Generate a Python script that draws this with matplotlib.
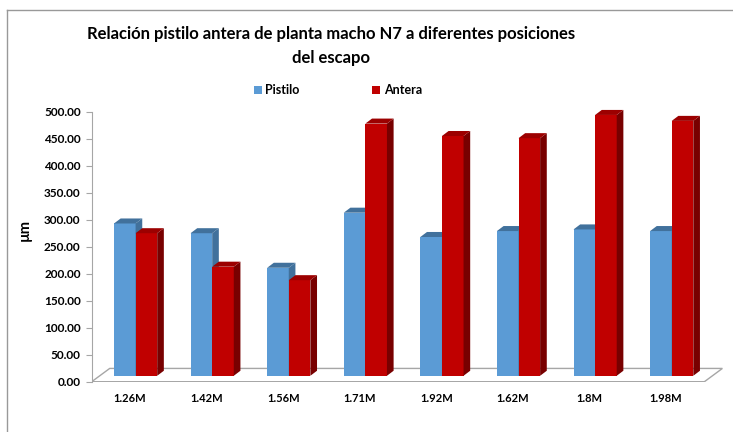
import matplotlib
matplotlib.use("Agg")
import matplotlib.pyplot as plt
from matplotlib.patches import Polygon, Patch
from matplotlib.lines import Line2D

plt.rcParams['font.family'] = ['Lato', 'DejaVu Sans']
plt.rcParams['font.weight'] = 'bold'

# data
categories = ['1.26M', '1.42M', '1.56M', '1.71M', '1.92M', '1.62M', '1.8M', '1.98M']
pistilo = [282, 264, 200, 302, 257, 268, 271, 268]
antera = [264, 202, 177, 467, 444, 440, 483, 472]
yticks = [0, 50, 100, 150, 200, 250, 300, 350, 400, 450, 500]

# colours (front, top, side)
BLUE = ('#5b9bd5', '#41719c', '#41719c')
RED = ('#c00000', '#9c0000', '#780000')

# fake 3D geometry (category units / value units)
BAR_W = 0.282
PAIR_OFF = 0.073
BASE = 11.0          # bar front sits a bit behind the floor front edge
DDX, DDY = 0.087, 9.3   # depth of a bar
FDX, FDY = 0.235, 24.6  # depth of the floor


def draw_bar3d(ax, x0, value, colors, z):
    x1 = x0 + BAR_W
    top = BASE + value
    ax.bar(x0, value, width=BAR_W, bottom=BASE, align='edge',
           color=colors[0], linewidth=0, zorder=z)
    side = [(x1, BASE), (x1 + DDX, BASE + DDY), (x1 + DDX, top + DDY), (x1, top)]
    cap = [(x0, top), (x1, top), (x1 + DDX, top + DDY), (x0 + DDX, top + DDY)]
    ax.add_patch(Polygon(side, closed=True, facecolor=colors[2], lw=0, zorder=z))
    ax.add_patch(Polygon(cap, closed=True, facecolor=colors[1], lw=0, zorder=z))


fig = plt.figure(figsize=(7.33, 4.32), dpi=100)
ax = fig.add_axes([0.1251, 0.1164, 0.862, 0.650])
n = len(categories)
ax.set_xlim(-0.5, n - 0.25)
ax.set_ylim(0, 520)

# floor
floor = [(-0.5, 0), (n - 0.5, 0), (n - 0.5 + FDX, FDY), (-0.5 + FDX, FDY)]
ax.add_patch(Polygon(floor, closed=True, facecolor='white',
                     edgecolor='#a6a6a6', lw=1, zorder=1))

for i in range(n):
    left = i + PAIR_OFF - BAR_W
    draw_bar3d(ax, left, pistilo[i], BLUE, 2 + 2 * i)
    draw_bar3d(ax, left + BAR_W, antera[i], RED, 3 + 2 * i)

for s in ['top', 'right', 'bottom']:
    ax.spines[s].set_visible(False)
ax.spines['left'].set_bounds(0, 500)
ax.spines['left'].set_color('#a6a6a6')

ax.set_yticks(yticks)
ax.set_yticklabels([f'{v:.2f}' for v in yticks], fontsize=8.5, fontweight='bold')
ax.tick_params(axis='y', length=4, color='#a6a6a6', pad=4)
ax.set_xticks(range(n))
ax.set_xticklabels(categories, fontsize=8, fontweight='bold')
ax.tick_params(axis='x', length=0, pad=8)

fig.text(25 / 733, 1 - 230 / 432, 'µm', rotation=90, ha='center', va='center',
         fontsize=10.5, fontweight='bold')

fig.text(331 / 733, 1 - 39 / 432,
         'Relación pistilo antera de planta macho N7 a diferentes posiciones',
         ha='center', va='baseline', fontsize=12, fontweight='bold')
fig.text(331 / 733, 1 - 63 / 432, 'del escapo',
         ha='center', va='baseline', fontsize=12, fontweight='bold')

handles = [Patch(facecolor=BLUE[0]), Patch(facecolor=RED[0])]
fig.legend(handles, ['Pistilo', 'Antera'], loc='center',
           bbox_to_anchor=(338 / 733, 1 - 90.5 / 432), ncol=2, frameon=False,
           prop={'size': 9, 'weight': 'bold'}, handlelength=0.6, handleheight=0.6,
           handletextpad=0.3, columnspacing=5.8)

# chart border (only top and left visible in the crop)
fig.add_artist(Line2D([7 / 733, 1], [1 - 9.5 / 432] * 2, color='#999999', lw=1))
fig.add_artist(Line2D([7 / 733] * 2, [0, 1 - 9.5 / 432], color='#999999', lw=1))

fig.savefig('out.png', dpi=100)
